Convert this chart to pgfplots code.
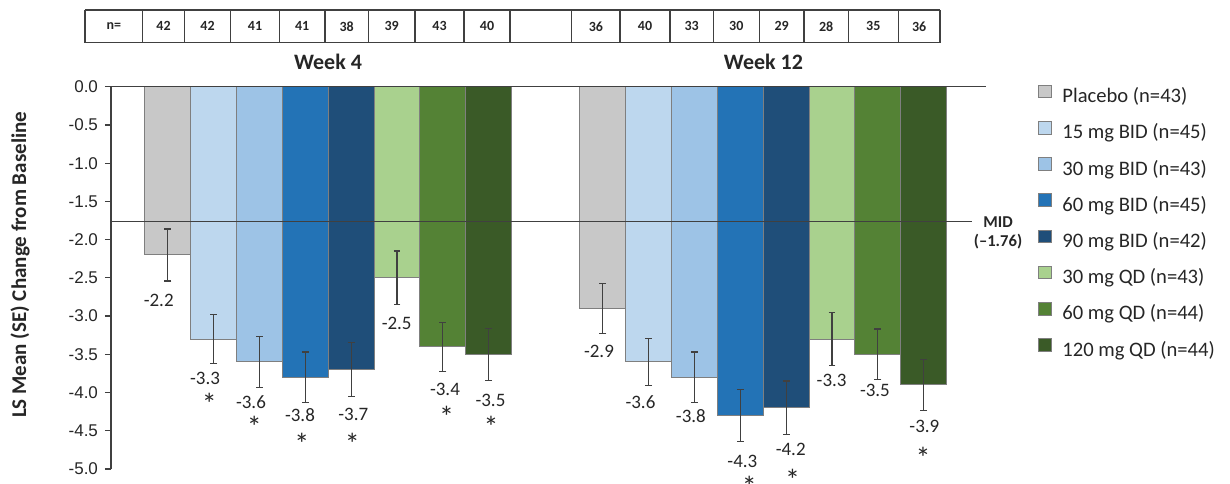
\documentclass[border=0pt]{standalone}
\usepackage{fontspec}
\setmainfont{Carlito}
\newfontfamily\arialfont{Liberation Sans}
\usepackage{pgfplots}
\pgfplotsset{compat=1.18}
\definecolor{cPla}{HTML}{C8C8C8}
\definecolor{c15B}{HTML}{BDD7EE}
\definecolor{c30B}{HTML}{9DC3E6}
\definecolor{c60B}{HTML}{2373B6}
\definecolor{c90B}{HTML}{1F4E79}
\definecolor{c30Q}{HTML}{A9D18E}
\definecolor{c60Q}{HTML}{548235}
\definecolor{c120Q}{HTML}{3A5A27}
\definecolor{txt}{HTML}{262626}
\definecolor{edge}{HTML}{7F7F7F}
\definecolor{axc}{HTML}{404040}
\pgfplotsset{
  mybar/.style={ybar, bar width=1, bar shift=0pt, fill=#1, draw=edge, line width=0.5pt,
    error bars/.cd, y dir=both, y explicit,
    error bar style={axc, line width=0.6pt},
    error mark options={rotate=90, mark size=1.7pt, axc, line width=0.6pt},
    /pgfplots/.cd,
    legend image code/.code={\draw[##1, draw=edge, line width=0.4pt] (0pt,0pt) rectangle (6.3pt,6.3pt);}},
}
\begin{document}
\begin{tikzpicture}
\begin{axis}[
  scale only axis, width=432pt, height=191.15pt,
  xmin=0, xmax=18.85, ymin=-5, ymax=0,
  axis x line=none, axis y line*=left,
  ytick={-5,-4.5,-4,-3.5,-3,-2.5,-2,-1.5,-1,-0.5,0},
  yticklabel style={font=\arialfont\fontsize{8.5}{10}\selectfont, text=txt,
    /pgf/number format/.cd, fixed, fixed zerofill, precision=1, assume math mode=true},
  tick align=outside, major tick length=3pt, tick style={axc, line width=0.6pt},
  axis line style={axc, line width=0.6pt},
  clip=false,
  ylabel={LS Mean (SE) Change from Baseline},
  every axis y label/.style={at={(rel axis cs:0,0.534)}, xshift=-45.5pt, rotate=90, anchor=center,
    font=\bfseries\fontsize{10.5}{12}\selectfont, text=txt},
  legend style={at={(rel axis cs:1.0729,1.005)}, anchor=north west, draw=none, fill=none,
    inner sep=0pt, outer sep=0pt, row sep=6.6pt, column sep=5.5pt,
    font=\fontsize{10.3}{12}\selectfont, text=txt,
    nodes={inner sep=0pt, text height=7.5pt, text depth=2.5pt}},
  legend cell align=left,
]
\coordinate (O) at (rel axis cs:0,0);
\addplot[mybar=cPla]  coordinates {(1.241,-2.2) +- (0,0.34) (10.731,-2.9) +- (0,0.33)};
\addplot[mybar=c15B]  coordinates {(2.241,-3.3) +- (0,0.32) (11.731,-3.6) +- (0,0.31)};
\addplot[mybar=c30B]  coordinates {(3.241,-3.6) +- (0,0.33) (12.731,-3.8) +- (0,0.33)};
\addplot[mybar=c60B]  coordinates {(4.241,-3.8) +- (0,0.33) (13.731,-4.3) +- (0,0.34)};
\addplot[mybar=c90B]  coordinates {(5.241,-3.7) +- (0,0.35) (14.731,-4.2) +- (0,0.35)};
\addplot[mybar=c30Q]  coordinates {(6.241,-2.5) +- (0,0.35) (15.731,-3.3) +- (0,0.35)};
\addplot[mybar=c60Q]  coordinates {(7.241,-3.4) +- (0,0.32) (16.731,-3.5) +- (0,0.33)};
\addplot[mybar=c120Q] coordinates {(8.241,-3.5) +- (0,0.34) (17.731,-3.9) +- (0,0.33)};
\legend{Placebo (n=43), 15 mg BID (n=45), 30 mg BID (n=43), 60 mg BID (n=45), 90 mg BID (n=42), 30 mg QD (n=43), 60 mg QD (n=44), 120 mg QD (n=44)}
% MID reference line
\addplot[forget plot, axc, line width=0.6pt, mark=none] coordinates {(0,-1.76) (18.78,-1.76)};
% top zero line
\addplot[forget plot, axc, line width=0.6pt, mark=none] coordinates {(-0.13,0) (19.1,0)};
% value labels
\addplot[forget plot, draw=none, mark=none, nodes near coords, point meta=explicit symbolic,
  nodes near coords style={anchor=north, inner sep=0pt, text=txt, font=\fontsize{9.5}{11}\selectfont}]
  coordinates {(1.041,-2.71) [-2.2] (2.051,-3.73) [-3.3] (3.054,-4.03) [-3.6] (4.123,-4.20) [-3.8]
  (5.286,-4.20) [-3.7] (6.233,-3.01) [-2.5] (7.286,-3.87) [-3.4] (8.279,-4.01) [-3.5]
  (10.646,-3.38) [-2.9] (11.551,-4.03) [-3.6] (12.652,-4.22) [-3.8] (13.775,-4.81) [-4.3]
  (14.829,-4.66) [-4.2] (15.722,-3.75) [-3.3] (16.667,-3.88) [-3.5] (17.746,-4.35) [-3.9]};
% significance stars
\addplot[forget plot, draw=none, mark=none, nodes near coords, point meta=explicit symbolic,
  nodes near coords style={anchor=center, yshift=-2.6pt, inner sep=0pt, text=txt, font=\fontsize{15}{16}\selectfont}]
  coordinates {(2.145,-4.075) [*] (3.126,-4.38) [*] (4.161,-4.60) [*] (5.264,-4.60) [*]
  (7.323,-4.25) [*] (8.290,-4.38) [*] (13.925,-5.17) [*] (14.871,-5.08) [*] (17.72,-4.79) [*]};
\end{axis}
% n= table
\foreach \x in {-13,15.85,36.65,59.85,84.15,107,128.65,152,176.5,199.5,230.35,254.5,279.5,301.15,324.15,346.5,368.65,393.65,414.5}
  \draw[axc, line width=0.6pt] ([shift={(\x pt,213.15pt)}]O) -- ([shift={(\x pt,229.5pt)}]O);
\draw[axc, line width=0.6pt] ([shift={(-13pt,213.15pt)}]O) -- ([shift={(414.5pt,213.15pt)}]O)
  ([shift={(-13pt,229.5pt)}]O) -- ([shift={(414.5pt,229.5pt)}]O);
\foreach \x/\t in {1.425/n=, 26.25/42, 48.25/42, 72/41, 95.575/41, 117.825/38, 140.325/39, 164.25/43, 188/40,
  242.425/36, 267/40, 290.325/33, 312.65/30, 335.325/29, 357.575/28, 381.15/35, 404.075/36}
  \node[font=\bfseries\fontsize{7}{8}\selectfont, text=txt, inner sep=0pt] at ([shift={(\x pt,221.3pt)}]O) {\t};
\node[font=\bfseries\fontsize{11}{13}\selectfont, text=txt, inner sep=0pt] at ([shift={(108.5pt,203.5pt)}]O) {Week 4};
\node[font=\bfseries\fontsize{11}{13}\selectfont, text=txt, inner sep=0pt] at ([shift={(326.2pt,203.5pt)}]O) {Week 12};
\node[font=\bfseries\fontsize{8.3}{9.9}\selectfont, text=txt, align=center, inner sep=0pt] at ([shift={(443.5pt,118.1pt)}]O) {MID\\(–1.76)};
\pgfresetboundingbox
\path[use as bounding box] ([shift={(-55.5pt,-7pt)}]O) rectangle ([shift={(559.5pt,234.5pt)}]O);
\end{tikzpicture}
\end{document}
